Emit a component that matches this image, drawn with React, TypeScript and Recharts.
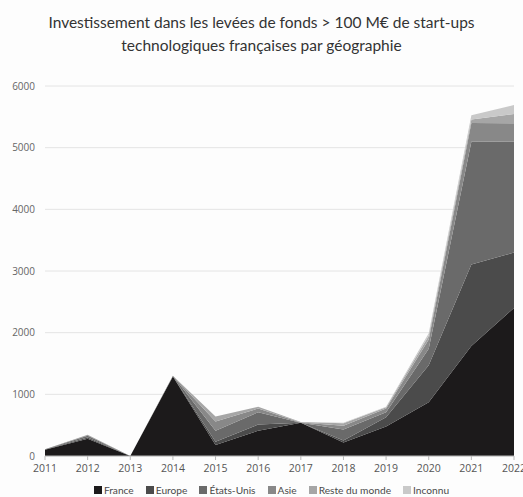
import React from 'react';
import { AreaChart, Area, XAxis, YAxis, CartesianGrid, Legend } from 'recharts';

const years = ['2011','2012','2013','2014','2015','2016','2017','2018','2019','2020','2021','2022'];
const france = [100, 280, 0, 1290, 180, 410, 540, 220, 480, 870, 1785, 2400];
const europe = [5, 20, 0, 5, 50, 100, 0, 30, 150, 600, 1320, 900];
const etatsUnis = [5, 30, 0, 5, 180, 200, 0, 180, 80, 270, 1990, 1800];
const asie = [0, 10, 0, 0, 150, 60, 5, 60, 60, 150, 305, 295];
const resteDuMonde = [0, 5, 0, 0, 80, 30, 5, 40, 20, 60, 55, 150];
const inconnu = [0, 0, 0, 0, 0, 0, 0, 10, 10, 40, 70, 145];
const yTicks = [0, 1000, 2000, 3000, 4000, 5000, 6000];

const seriesNames = ['France', 'Europe', 'États-Unis', 'Asie', 'Reste du monde', 'Inconnu'];
const seriesValues = [france, europe, etatsUnis, asie, resteDuMonde, inconnu];
const seriesColors = ['#1c1a1b', '#4b4b4b', '#6a6a6a', '#888888', '#a6a6a6', '#c9c9c9'];

const data = years.map((y, i) => {
  const row: Record<string, number | string> = { year: y };
  seriesNames.forEach((n, k) => { row[n] = seriesValues[k][i]; });
  return row;
});

const renderLegend = (props: any) => {
  const payload = props.payload || [];
  return (
    <div style={{ display: 'flex', justifyContent: 'center', alignItems: 'center', width: 523, paddingLeft: 20, boxSizing: 'border-box', fontFamily: 'Lato, sans-serif', fontSize: 10.2, lineHeight: '14px', color: '#4a4a4a' }}>
      {payload.map((p: any, i: number) => (
        <span key={p.value} style={{ display: 'inline-flex', alignItems: 'center', marginLeft: i === 0 ? 0 : 12 }}>
          <span style={{ display: 'inline-block', width: 8, height: 8, background: p.color, marginRight: 2 }} />
          {p.value}
        </span>
      ))}
    </div>
  );
};

export default function App() {
  return (
    <div style={{ position: 'absolute', left: 0, top: 0, width: 523, height: 497, background: '#fdfdfd', overflow: 'hidden' }}>
      <div style={{ position: 'absolute', left: 0, top: 11, width: 523, textAlign: 'center', fontFamily: 'Lato, sans-serif', fontSize: 15.5, lineHeight: '23px', color: '#333' }}>
        Investissement dans les levées de fonds &gt; 100 M€ de start-ups<br />
        technologiques françaises par géographie
      </div>
      <AreaChart width={523} height={497} data={data} margin={{ top: 86, right: 9, bottom: 0, left: 0 }}>
        <CartesianGrid vertical={false} stroke="#e4e4e4" />
        <XAxis dataKey="year" height={27} tickSize={4} tickMargin={5} stroke="#b8b8b8"
          tick={{ fill: '#555', fontSize: 10.5, fontFamily: '"Open Sans", sans-serif' }} interval={0} />
        <YAxis width={45} domain={[0, 6000]} ticks={yTicks} axisLine={false} tickLine={false} tickMargin={4}
          tick={{ fill: '#666', fontSize: 10, fontFamily: '"Open Sans", sans-serif' }} />
        <Legend verticalAlign="bottom" height={14} itemSorter={null} content={renderLegend}
          wrapperStyle={{ left: 0, width: 523 }} />
        {seriesNames.map((n, k) => (
          <Area key={n} type="linear" dataKey={n} stackId="1" stroke="none" fill={seriesColors[k]} fillOpacity={1} isAnimationActive={false} />
        ))}
      </AreaChart>
    </div>
  );
}
